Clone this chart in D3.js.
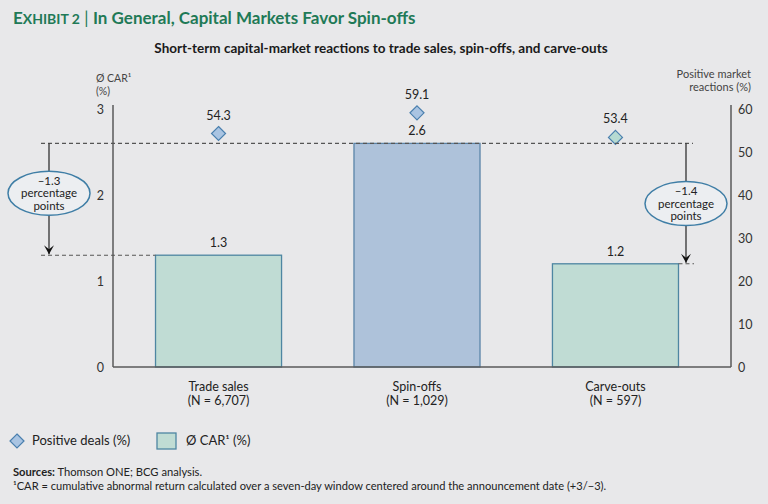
<!DOCTYPE html>
<html><head><meta charset="utf-8">
<script src="https://cdn.jsdelivr.net/npm/d3@7/dist/d3.min.js"></script>
<style>
html,body{margin:0;padding:0;background:#e8e8ea;}
svg{display:block;font-family:Lato,"Open Sans",sans-serif;}
</style></head><body>
<svg id="c" width="768" height="504"></svg>
<script>
const categories = ["Trade sales","Spin-offs","Carve-outs"];
const sampleSizes = ["(N = 6,707)","(N = 1,029)","(N = 597)"];
const carValues = [1.3, 2.6, 1.2];
const positiveDeals = [54.3, 59.1, 53.4];
const leftTicks = [0,1,2,3];
const rightTicks = [0,10,20,30,40,50,60];

const svg = d3.select("#c");
const W = 768, H = 504;
svg.append("rect").attr("width",W).attr("height",H).attr("fill","#e8e8ea");

const xL = 113, xR = 731, yBase = 367, yTop = 109;
const yL = d3.scaleLinear().domain([0,3]).range([yBase,yTop]);
const yR = d3.scaleLinear().domain([0,60]).range([yBase,yTop]);
const x = d3.scaleBand().domain(categories).range([119,715]).paddingInner(0.365).paddingOuter(0.184);

const green = "#c0dcd4", greenStroke = "#4e86a2";
const blue = "#aec2da", blueStroke = "#5b84a8";
const fills = [green, blue, green];
const strokes = [greenStroke, blueStroke, greenStroke];
const diaFills = ["#a9c4e2","#a9c4e2","#b6dad2"];

// Title
const t = svg.append("text").attr("x",13).attr("y",24).attr("fill","#1f7a57")
  .attr("font-weight","bold").attr("font-size",17);
t.append("tspan").text("E");
t.append("tspan").attr("font-size",14).text("XHIBIT 2");
t.append("tspan").attr("font-weight","normal").text(" | ");
t.append("tspan").text("In General, Capital Markets Favor Spin-offs");

svg.append("text").attr("x",381).attr("y",53).attr("text-anchor","middle")
  .attr("font-weight","bold").attr("font-size",13.5).attr("fill","#1a1a1a")
  .text("Short-term capital-market reactions to trade sales, spin-offs, and carve-outs");

// axis titles
svg.append("text").attr("x",96).attr("y",82).attr("font-size",10.5).attr("fill","#444").text("Ø CAR¹");
svg.append("text").attr("x",96).attr("y",95).attr("font-size",10.5).attr("fill","#444").text("(%)");
svg.append("text").attr("x",751).attr("y",78).attr("text-anchor","end").attr("font-size",11).attr("fill","#444").text("Positive market");
svg.append("text").attr("x",751).attr("y",91).attr("text-anchor","end").attr("font-size",11).attr("fill","#444").text("reactions (%)");

// axes (tick labels only)
const gl = svg.append("g").attr("transform",`translate(${xL},0)`)
  .call(d3.axisLeft(yL).tickValues(leftTicks).tickSize(0).tickPadding(9).tickFormat(d3.format("d")));
const gr = svg.append("g").attr("transform",`translate(${xR},0)`)
  .call(d3.axisRight(yR).tickValues(rightTicks).tickSize(0).tickPadding(7).tickFormat(d3.format("d")));
[gl,gr].forEach(g=>{
  g.select(".domain").remove();
  g.selectAll("text").attr("font-family","Lato,sans-serif").attr("font-size",12.5).attr("fill","#333");
});

// bars
svg.selectAll("rect.bar").data(categories).join("rect").attr("class","bar")
  .attr("x",d=>x(d)).attr("width",x.bandwidth())
  .attr("y",(d,i)=>yL(carValues[i])).attr("height",(d,i)=>yBase-yL(carValues[i]))
  .attr("fill",(d,i)=>fills[i]).attr("stroke",(d,i)=>strokes[i]).attr("stroke-width",1.3);

// bar labels
svg.selectAll("text.bl").data(categories).join("text").attr("class","bl")
  .attr("x",d=>x(d)+x.bandwidth()/2).attr("y",(d,i)=>yL(carValues[i])-8)
  .attr("text-anchor","middle").attr("font-size",12.5).attr("fill","#222")
  .text((d,i)=>carValues[i].toFixed(1));

// axis lines
const axc = "#5a5a5a";
svg.append("line").attr("x1",xL).attr("x2",xL).attr("y1",105).attr("y2",yBase).attr("stroke",axc).attr("stroke-width",1.5);
svg.append("line").attr("x1",xR).attr("x2",xR).attr("y1",105).attr("y2",yBase).attr("stroke",axc).attr("stroke-width",1.5);
svg.append("line").attr("x1",xL).attr("x2",xR).attr("y1",yBase).attr("y2",yBase).attr("stroke",axc).attr("stroke-width",1.5);

// diamonds
const ds = 7;
svg.selectAll("path.dia").data(categories).join("path").attr("class","dia")
  .attr("d",(d,i)=>{const cx=x(d)+x.bandwidth()/2, cy=yR(positiveDeals[i]);
    return `M${cx},${cy-ds}L${cx+ds},${cy}L${cx},${cy+ds}L${cx-ds},${cy}Z`;})
  .attr("fill",(d,i)=>diaFills[i]).attr("stroke","#4a7fae").attr("stroke-width",1.2);
svg.selectAll("text.dl").data(categories).join("text").attr("class","dl")
  .attr("x",d=>x(d)+x.bandwidth()/2).attr("y",(d,i)=>yR(positiveDeals[i])-14)
  .attr("text-anchor","middle").attr("font-size",12.5).attr("fill","#222")
  .text((d,i)=>positiveDeals[i].toFixed(1));

// dashed reference lines
const dash = {stroke:"#555","stroke-width":1.1,"stroke-dasharray":"4,3"};
function dl(x1,x2,y){const l=svg.append("line").attr("x1",x1).attr("x2",x2).attr("y1",y).attr("y2",y);
  Object.entries(dash).forEach(([k,v])=>l.attr(k,v));}
const ySpin = yL(carValues[1]);
dl(41, 693, ySpin);
dl(41, x(categories[0]), yL(carValues[0]));
dl(x(categories[2])+x.bandwidth(), 694, yL(carValues[2]));

// arrows with ellipses
function arrowCallout(ax, yFrom, yTo, diff, cyOff){
  svg.append("line").attr("x1",ax).attr("x2",ax).attr("y1",yFrom).attr("y2",yTo-1).attr("stroke","#222").attr("stroke-width",1.2);
  svg.append("path").attr("d",`M${ax-5},${yTo-10}L${ax},${yTo-1}L${ax+5},${yTo-10}L${ax},${yTo-6}Z`).attr("fill","#111");
  const cy = (yFrom+yTo)/2 + cyOff;
  svg.append("ellipse").attr("cx",ax).attr("cy",cy).attr("rx",41).attr("ry",22)
    .attr("fill","#eceef1").attr("stroke","#3f7ea6").attr("stroke-width",1.5);
  const lines = [diff, "percentage", "points"];
  lines.forEach((s,i)=>svg.append("text").attr("x",ax).attr("y",cy-12.5+i*12.5+4).attr("text-anchor","middle")
    .attr("font-size",11.5).attr("fill","#222").text(s));
}
const fmtDiff = v => (v<0?"–":"")+Math.abs(v).toFixed(1);
arrowCallout(49, ySpin, yL(carValues[0]), fmtDiff(carValues[0]-carValues[1]), -6);
arrowCallout(686, ySpin, yL(carValues[2]), fmtDiff(carValues[2]-carValues[1]), 0);

// category labels
svg.selectAll("text.cat").data(categories).join("text").attr("class","cat")
  .attr("x",d=>x(d)+x.bandwidth()/2).attr("y",391).attr("text-anchor","middle")
  .attr("font-size",12.5).attr("fill","#222").text(d=>d);
svg.selectAll("text.n").data(categories).join("text").attr("class","n")
  .attr("x",d=>x(d)+x.bandwidth()/2).attr("y",405).attr("text-anchor","middle")
  .attr("font-size",12.5).attr("fill","#222").text((d,i)=>sampleSizes[i]);

// legend
svg.append("path").attr("d","M17,434L24,441L17,448L10,441Z").attr("fill","#a9c4e2").attr("stroke","#4a7fae").attr("stroke-width",1.2);
svg.append("text").attr("x",32).attr("y",445).attr("font-size",13).attr("fill","#222").text("Positive deals (%)");
svg.append("rect").attr("x",157).attr("y",433).attr("width",19).attr("height",16).attr("fill",green).attr("stroke",greenStroke).attr("stroke-width",1.3);
svg.append("text").attr("x",186).attr("y",445).attr("font-size",13).attr("fill","#222").text("Ø CAR¹ (%)");

// sources
const s = svg.append("text").attr("x",13).attr("y",476).attr("font-size",11.2).attr("fill","#222");
s.append("tspan").attr("font-weight","bold").text("Sources:");
s.append("tspan").text(" Thomson ONE; BCG analysis.");
svg.append("text").attr("x",13).attr("y",490).attr("font-size",11.1).attr("fill","#222")
  .text("¹CAR = cumulative abnormal return calculated over a seven-day window centered around the announcement date (+3/−3).");
</script></body></html>
